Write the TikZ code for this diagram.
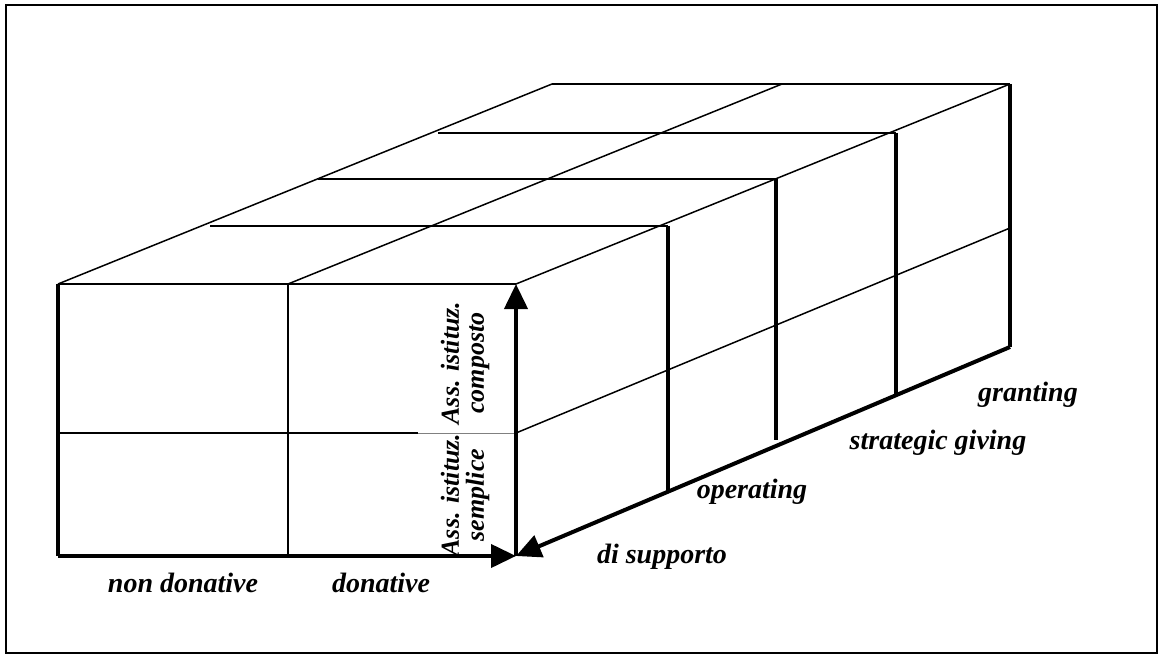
\documentclass[tikz,border=0pt]{standalone}
\usepackage{fontspec}
\setmainfont{Liberation Serif}
\usetikzlibrary{arrows.meta, positioning, calc}
\tikzset{
  every picture/.style={x=1pt, y=-1pt},
  edge/.style={line width=1.5pt},
  bold edge/.style={line width=4pt},
  axis/.style={line width=4pt, -{Triangle[length=25pt, width=23pt]}},
  lab/.style={font=\fontsize{28}{25}\selectfont\bfseries\itshape, inner sep=0pt, align=center},
  side lab/.style={lab, font=\fontsize{26}{25}\selectfont\bfseries\itshape, rotate=90},
}

\begin{document}
\begin{tikzpicture}
  \useasboundingbox (0,0) rectangle (1159,655);
  \draw[line width=2pt] (6,5) rectangle (1157,653);
  % front face
  \coordinate (f1) at (58,284); \coordinate (f2) at (288,284); \coordinate (f3) at (516,284);
  \coordinate (m1) at (58,433); \coordinate (mx) at (418,433); \coordinate (m3) at (516,433);
  \coordinate (b1) at (58,556); \coordinate (b2) at (288,556); \coordinate (b3) at (516,556);
  \coordinate (g1) at (552,84); \coordinate (g2) at (782,84); \coordinate (g3) at (1010,84);
  \coordinate (gm) at (1010,228); \coordinate (gb) at (1010,347);
  \draw[edge] (f1) -- (f3);
  \draw[edge] (f2) -- (b2);
  \draw[edge] (m1) -- (mx);
  \draw[line width=0.8pt, gray] (mx) -- (m3);
  \draw[bold edge] (f1) -- (b1);
  % depth layers
  \foreach \k/\dx/\dy/\yb in {1/152/-58/492, 2/260/-105/440, 3/380/-151/395, 4/494/-200/347}
    { \coordinate (l\k) at ($(f1)+(\dx,\dy)$);
      \coordinate (r\k) at ($(f3)+(\dx,\dy)$);
      \coordinate (v\k) at ($(b3)+(\dx,0)$);
      \draw[edge] (l\k) -- (r\k);
      \draw[bold edge] (r\k) -- (v\k |- 0,\yb); }
  \draw[edge] (f1) -- (g1);
  \draw[edge] (f2) -- (g2);
  \draw[edge] (f3) -- (g3);
  \draw[edge] (m3) -- (gm);
  % axes
  \draw[axis] (b1) -- (b3);
  \draw[axis] (b3) -- (f3);
  \draw[axis] (gb) -- (b3);
  % labels
  \node[lab] (nondon) at (183,583) {non donative};
  \node[lab] (don) at (381,583) {donative};
  \node[side lab] (comp) at (465,363) {Ass. istituz.\\composto};
  \node[side lab] (sempl) at (465,495) {Ass. istituz.\\semplice};
  \node[lab] (supp) at (662,557) {di supporto};
  \node[lab] (oper) at (752,492) {operating};
  \node[lab] (strat) at (938,443) {strategic giving};
  \node[lab] (grant) at (1028,395) {granting};
\end{tikzpicture}
\end{document}
